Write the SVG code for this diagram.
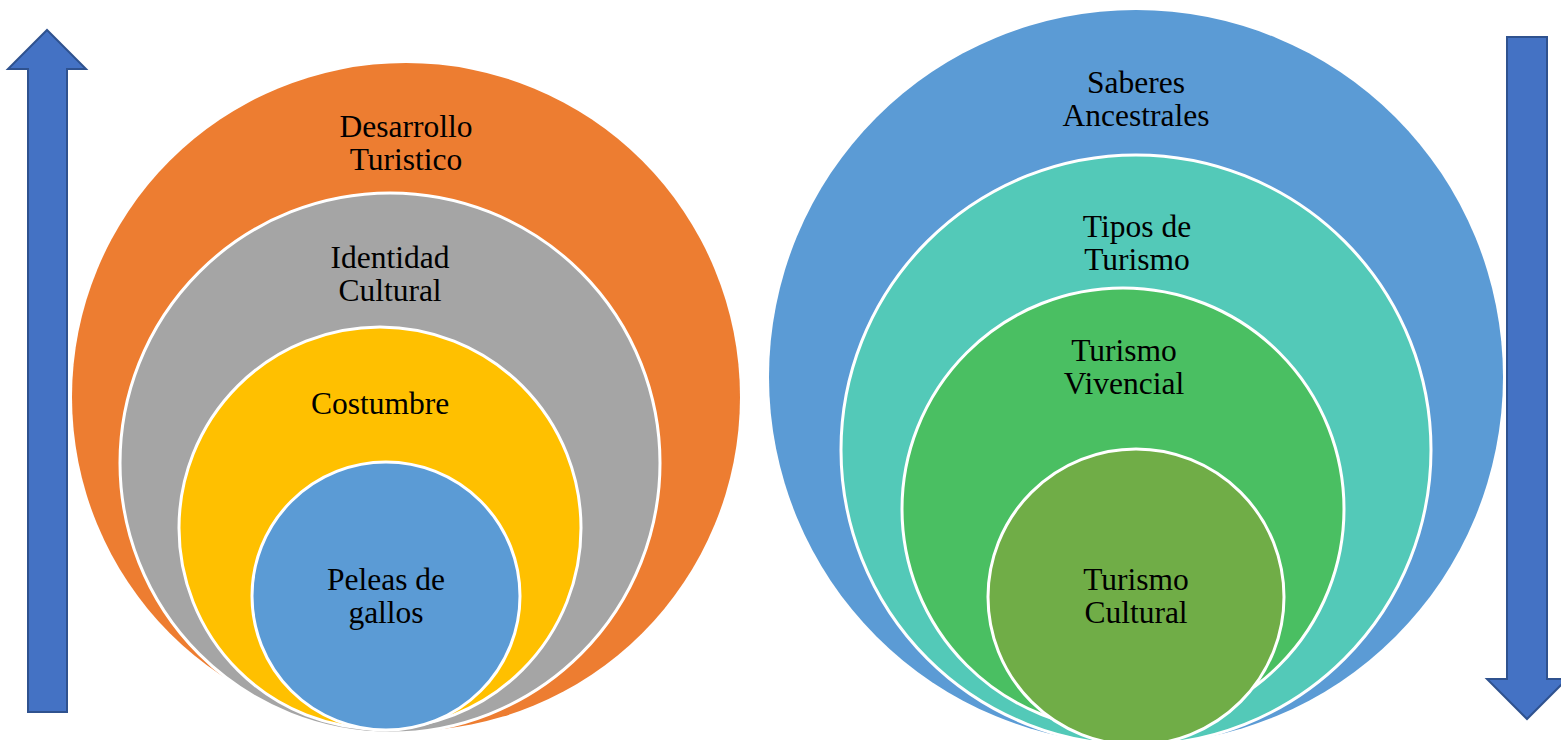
<svg xmlns="http://www.w3.org/2000/svg" width="1561" height="740" viewBox="0 0 1561 740">
<style>
.c{stroke:#FFFFFF;stroke-width:3}
.arrow{fill:#4472C4;stroke:#2F528F;stroke-width:2}
text{font-family:"Liberation Serif","Times New Roman",serif;font-size:31.5px;fill:#000;text-anchor:middle}
</style>
<rect width="1561" height="740" fill="#FFFFFF"/>
<g id="connectors">
<path id="arrow-up" class="arrow" d="M28,712 L28,69 L8,69 L47,30 L86,69 L67,69 L67,712 Z"/>
<path id="arrow-down" class="arrow" d="M1507,37 L1547,37 L1547,679 L1567,679 L1527,719 L1487,679 L1507,679 Z"/>
</g>
<g id="desarrollo"><circle cx="406" cy="397" r="334" fill="#ED7D31"/><text x="406" y="137">Desarrollo</text><text x="406" y="170">Turistico</text></g>
<g id="identidad"><circle class="c" cx="390" cy="463" r="270" fill="#A5A5A5"/><text x="390" y="268">Identidad</text><text x="390" y="301">Cultural</text></g>
<g id="costumbre"><circle class="c" cx="380" cy="528" r="201" fill="#FFC000"/><text x="380" y="414">Costumbre</text></g>
<g id="peleas"><circle class="c" cx="386" cy="596" r="134" fill="#5B9BD5"/><text x="386" y="590">Peleas de</text><text x="386" y="623">gallos</text></g>
<g id="saberes"><circle cx="1136" cy="377" r="367" fill="#5B9BD5"/><text x="1136" y="93">Saberes</text><text x="1136" y="126">Ancestrales</text></g>
<g id="tipos"><circle class="c" cx="1136" cy="450" r="295" fill="#53C9B8"/><text x="1137" y="237">Tipos de</text><text x="1137" y="270">Turismo</text></g>
<g id="vivencial"><circle class="c" cx="1123" cy="509" r="221" fill="#4ABF62"/><text x="1124" y="361">Turismo</text><text x="1124" y="394">Vivencial</text></g>
<g id="cultural"><circle class="c" cx="1136" cy="597" r="148" fill="#70AD47"/><text x="1136" y="590">Turismo</text><text x="1136" y="623">Cultural</text></g>
</svg>
